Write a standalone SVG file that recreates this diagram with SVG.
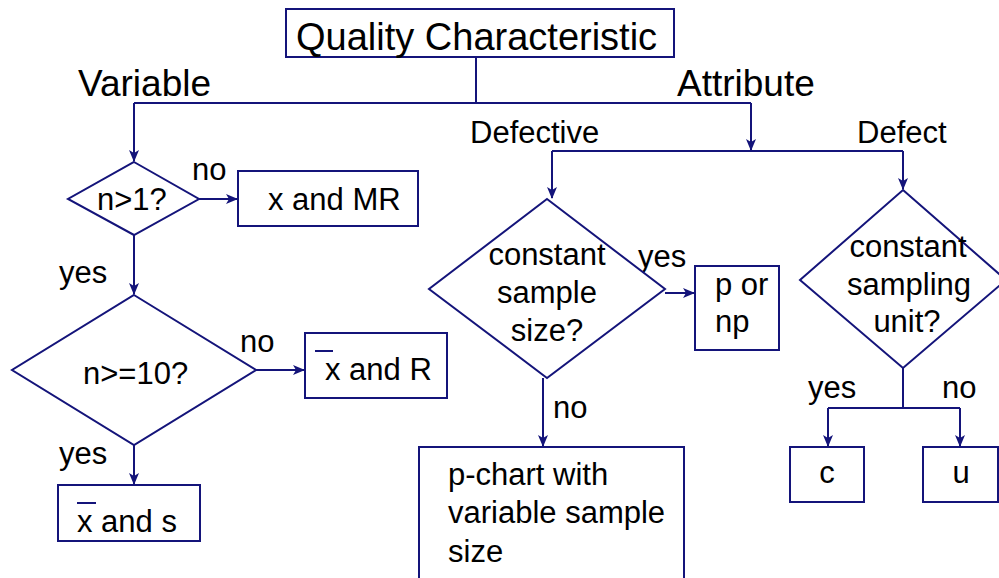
<svg xmlns="http://www.w3.org/2000/svg" width="999" height="578" viewBox="0 0 999 578">
<style>
.s{fill:#fff;stroke:#14147a;stroke-width:2}
.c{fill:none;stroke:#14147a;stroke-width:2}
text{font-family:"Liberation Sans",Arial,sans-serif;font-size:31px;fill:#000}
.big{font-size:37px}
.m{text-anchor:middle}
</style>
<defs>
<marker id="a" viewBox="0 0 12 10" refX="11" refY="5" markerWidth="12" markerHeight="10" markerUnits="userSpaceOnUse" orient="auto">
<path d="M0,0 L12,5 L0,10 L3,5 z" fill="#14147a"/>
</marker>
</defs>
<rect width="999" height="578" fill="#fff"/>
<g id="connectors">
<path class="c" d="M476,57 V103"/>
<path class="c" d="M134,103 H751"/>
<path class="c" d="M134,103 V161" marker-end="url(#a)"/>
<path class="c" d="M751,103 V150" marker-end="url(#a)"/>
<path class="c" d="M552,151 H903"/>
<path class="c" d="M552,151 V198" marker-end="url(#a)"/>
<path class="c" d="M903,151 V189" marker-end="url(#a)"/>
<path class="c" d="M199,199 H237" marker-end="url(#a)"/>
<path class="c" d="M134,235 V294" marker-end="url(#a)"/>
<path class="c" d="M256,370 H304" marker-end="url(#a)"/>
<path class="c" d="M134,445 V484" marker-end="url(#a)"/>
<path class="c" d="M665,293 H694" marker-end="url(#a)"/>
<path class="c" d="M543,378 V446" marker-end="url(#a)"/>
<path class="c" d="M903,368 V408 M828,408 H960"/>
<path class="c" d="M828,408 V446" marker-end="url(#a)"/>
<path class="c" d="M960,408 V446" marker-end="url(#a)"/>
</g>
<g id="labels">
<text class="big" x="78" y="96">Variable</text>
<text class="big" x="677" y="96">Attribute</text>
<text x="470" y="143">Defective</text>
<text x="857" y="143">Defect</text>
<text x="192" y="180">no</text>
<text x="59" y="283">yes</text>
<text x="240" y="352">no</text>
<text x="59" y="464">yes</text>
<text x="638" y="267">yes</text>
<text x="553" y="418">no</text>
<text x="808" y="398">yes</text>
<text x="942" y="398">no</text>
</g>
<g id="quality">
<rect class="s" x="286" y="9" width="388" height="48"/>
<text x="296" y="50" style="font-size:38px">Quality Characteristic</text>
</g>
<g id="n1">
<polygon class="s" points="134,162 199,199 134,235 68,199"/>
<text x="97" y="210">n&gt;1?</text>
</g>
<g id="xmr">
<rect class="s" x="238" y="171" width="180" height="55"/>
<text x="268" y="210">x and MR</text>
</g>
<g id="n10">
<polygon class="s" points="134,295 256,370 134,445 12,370"/>
<text x="83" y="384">n&gt;=10?</text>
</g>
<g id="xr">
<rect class="s" x="305" y="333" width="142" height="65"/>
<line class="c" x1="315" y1="351" x2="333" y2="351"/>
<text x="325" y="380">x and R</text>
</g>
<g id="xs">
<rect class="s" x="58" y="485" width="142" height="56"/>
<line class="c" x1="77" y1="503" x2="96" y2="503"/>
<text x="77" y="532">x and s</text>
</g>
<g id="css">
<polygon class="s" points="547,199 665,289 547,378 429,289"/>
<text class="m" x="547" y="265">constant</text>
<text class="m" x="547" y="303">sample</text>
<text class="m" x="547" y="341">size?</text>
</g>
<g id="pnp">
<rect class="s" x="695" y="266" width="84" height="84"/>
<text x="715" y="295">p or</text>
<text x="715" y="332">np</text>
</g>
<g id="pchart">
<rect class="s" x="419" y="447" width="265" height="140"/>
<text x="448" y="485">p-chart with</text>
<text x="448" y="523">variable sample</text>
<text x="448" y="562">size</text>
</g>
<g id="csu">
<polygon class="s" points="903,190 1006,280 903,368 800,280"/>
<text class="m" x="908" y="257">constant</text>
<text class="m" x="909" y="295">sampling</text>
<text class="m" x="907" y="332">unit?</text>
</g>
<g id="c">
<rect class="s" x="790" y="447" width="74" height="55"/>
<text class="m" x="827" y="483">c</text>
</g>
<g id="u">
<rect class="s" x="923" y="447" width="75" height="55"/>
<text class="m" x="961" y="483">u</text>
</g>
</svg>
